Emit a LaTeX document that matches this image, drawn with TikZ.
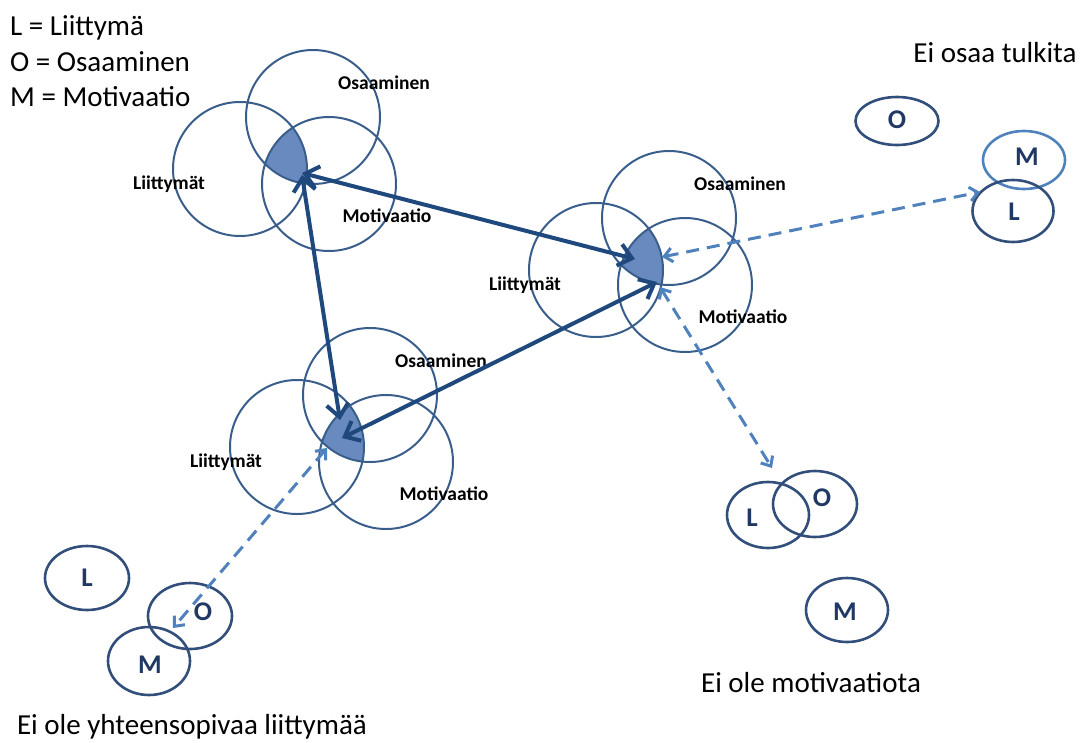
\documentclass[tikz,border=0pt]{standalone}
\usepackage{fontspec}
\setmainfont{Carlito}
\usetikzlibrary{arrows.meta,calc,shapes.geometric}
\definecolor{vnRing}{RGB}{58,94,140}
\definecolor{vnCore}{RGB}{104,138,190}
\definecolor{vnArrow}{RGB}{31,73,125}
\definecolor{vnDash}{RGB}{79,129,189}
\definecolor{vnSmall}{RGB}{50,78,122}
\definecolor{vnLetter}{RGB}{31,56,100}
% three overlapping circles, #1 = name, #2 = centre of the L circle
\newcommand{\venn}[2]{%
  \coordinate (#1L) at (#2);
  \coordinate (#1O) at ($(#1L)+(73,-52)$);
  \coordinate (#1M) at ($(#1L)+(89,15)$);
  \begin{scope}
    \clip (#1O) circle (67pt);
    \clip (#1M) circle (67pt);
    \fill[core] (#1L) circle (67pt);
  \end{scope}
  \draw[ring] (#1L) circle (67pt) (#1O) circle (67pt) (#1M) circle (67pt);
  \node[tag] (#1Ot) at ($(#1L)+(144,-86)$) {Osaaminen};
  \node[tag] (#1Lt) at ($(#1L)+(-71,15)$) {Liittymät};
  \node[tag] (#1Mt) at ($(#1L)+(147,47)$) {Motivaatio};
}

\begin{document}
\begin{tikzpicture}[x=1pt,y=-1pt,
    ring/.style={draw=vnRing,line width=2pt},
    core/.style={fill=vnCore},
    tag/.style={font=\fontsize{19.5}{22}\selectfont\bfseries,inner sep=0pt},
    big/.style={font=\fontsize{29}{35}\selectfont,inner sep=0pt},
    oval/.style={draw=vnSmall,line width=2.6pt,ellipse,inner sep=0pt},
    letter/.style={font=\fontsize{27}{30}\selectfont\bfseries,text=vnLetter,inner sep=0pt},
    link/.style={{Straight Barb[length=13pt,width=22pt]}-{Straight Barb[length=13pt,width=22pt]},
                 line width=4pt,draw=vnArrow},
    hint/.style={{Straight Barb[length=8pt,width=14pt]}-{Straight Barb[length=8pt,width=14pt]},
                 line width=3pt,draw=vnDash,dash pattern=on 13pt off 8pt}]
  \useasboundingbox (0,0) rectangle (1082,742);

  % legend
  \node[big,anchor=base west] (lgL) at (10,35) {L = Liittymä};
  \node[big,anchor=base west] (lgO) at (10,71) {O = Osaaminen};
  \node[big,anchor=base west] (lgM) at (10,106) {M = Motivaatio};

  % the three groups
  \venn{a}{240,169}
  \venn{b}{596,270}
  \venn{c}{297,447}

  % arrow ends
  \coordinate (aT1) at (302,173);
  \coordinate (aT2) at (302,175);
  \coordinate (bT1) at (635,259);
  \coordinate (bT2) at (657,282);
  \coordinate (bD1) at (662,257);
  \coordinate (bD2) at (660,287);
  \coordinate (cT1) at (340,420);
  \coordinate (cT2) at (342,438);
  \coordinate (cD) at (327,448);
  \coordinate (trEnd) at (980,192);
  \coordinate (brEnd) at (772,468);
  \coordinate (blEnd) at (173,628);

  % top right: Ei osaa tulkita
  \node[oval,minimum width=83pt,minimum height=48pt] (rO) at (897,121) {};
  \node[oval,draw=vnDash,minimum width=82pt,minimum height=58pt] (rM) at (1024,160) {};
  \node[oval,minimum width=81pt,minimum height=62pt] (rL) at (1013,211) {};
  \node[letter] (rOt) at (897,120) {O};
  \node[letter] (rMt) at (1027,157) {M};
  \node[letter] (rLt) at (1014,212) {L};
  \node[big,anchor=base] (capTR) at (995,62) {Ei osaa tulkita};

  % bottom right: Ei ole motivaatiota
  \node[oval,minimum width=82pt,minimum height=66pt] (sL) at (768,515) {};
  \node[oval,minimum width=84pt,minimum height=66pt] (sO) at (815,504) {};
  \node[oval,minimum width=82pt,minimum height=64pt] (sM) at (847,610) {};
  \node[letter] (sLt) at (752,518) {L};
  \node[letter] (sOt) at (822,498) {O};
  \node[letter] (sMt) at (845,612) {M};
  \node[big,anchor=base] (capBR) at (811,692) {Ei ole motivaatiota};

  % bottom left: Ei ole yhteensopivaa liittymaa
  \node[oval,minimum width=84pt,minimum height=64pt] (tL) at (87,578) {};
  \node[oval,minimum width=84pt,minimum height=66pt] (tO) at (190,616) {};
  \node[oval,minimum width=82pt,minimum height=68pt] (tM) at (149,661) {};
  \node[letter] (tLt) at (87,578) {L};
  \node[letter] (tOt) at (203,612) {O};
  \node[letter] (tMt) at (150,665) {M};
  \node[big,anchor=base] (capBL) at (192,734) {Ei ole yhteensopivaa liittymää};

  % connectors
  \draw[link] (aT1) -- (bT1);
  \draw[link] (aT2) -- (cT1);
  \draw[link] (cT2) -- (bT2);
  \draw[hint] (bD1) -- (trEnd);
  \draw[hint] (bD2) -- (brEnd);
  \draw[hint] (cD) -- (blEnd);
\end{tikzpicture}
\end{document}
